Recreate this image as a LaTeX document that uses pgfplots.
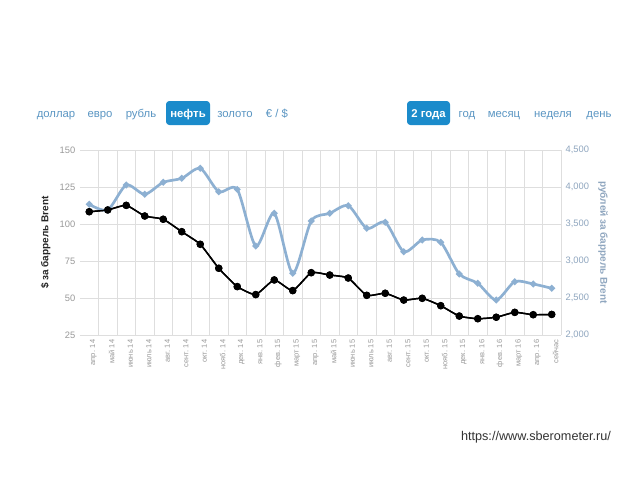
\documentclass[border=0pt]{standalone}
\usepackage{pgfplots}
\pgfplotsset{compat=1.18}
\usepackage{fontspec}
\setmainfont{Liberation Sans}
\definecolor{btn}{HTML}{1B8BCB}
\definecolor{lnk}{HTML}{5B96C3}
\definecolor{rub}{HTML}{8DB0D2}
\definecolor{axlbl}{HTML}{8FA6BF}
\definecolor{gridc}{HTML}{DEDEDE}
\definecolor{tickc}{HTML}{999999}

\pgfplotsset{
  base/.style={
    at={(60pt,108.75pt)}, anchor=south west, scale only axis,
    width=360.75pt, height=138.75pt,
    xmin=-0.5, xmax=25.5,
    axis line style={draw=none},
    major tick length=0, minor tick length=0,
    /pgf/number format/assume math mode=true,
  }
}

\begin{document}
\begin{tikzpicture}[x=0.75pt,y=0.75pt]
\fill[white] (0,0) rectangle (640,480);
% menu
\fill[btn, rounded corners=2.5pt] (166,379) rectangle (210,355);
\fill[btn, rounded corners=2.5pt] (407,379) rectangle (450,355);
\begin{scope}[every node/.style={font=\fontsize{8.5}{10}\selectfont, text=lnk, anchor=base, inner sep=0pt}]
\node at (56,363) {доллар};
\node at (100,363) {евро};
\node at (141,363) {рубль};
\node[text=white, font=\fontsize{8.5}{10}\selectfont\bfseries] at (188,363) {нефть};
\node at (235,363) {золото};
\node at (277,363) {€ / \$};
\node[text=white, font=\fontsize{8.5}{10}\selectfont\bfseries] at (428.5,363) {2 года};
\node at (467,363) {год};
\node at (504,363) {месяц};
\node at (553,363) {неделя};
\node at (599,363) {день};
\end{scope}
\node[text=black!80, font=\fontsize{9.5}{11}\selectfont] at (536,43) {https://www.sberometer.ru/};

% left axis: grid, labels
\begin{axis}[base,
  ymin=25, ymax=150, ytick={25,50,...,150},
  xtick={0,...,25},
  xticklabels={апр. 14,май 14,июнь 14,июль 14,авг. 14,сент. 14,окт. 14,нояб. 14,дек. 14,янв. 15,фев. 15,март 15,апр. 15,май 15,июнь 15,июль 15,авг. 15,сент. 15,окт. 15,нояб. 15,дек. 15,янв. 16,фев. 16,март 16,апр. 16,сейчас},
  minor xtick={0.5,1.5,...,25.5},
  xminorgrids, ymajorgrids,
  grid style={gridc, line width=0.6pt},
  minor grid style={gridc, line width=0.6pt},
  xticklabel style={rotate=90, anchor=east, text=tickc, font=\fontsize{5.6}{6}\selectfont, yshift=-3pt},
  yticklabel style={text=tickc, font=\fontsize{7}{8}\selectfont},
  ylabel={\$ за баррель Brent},
  ylabel style={font=\fontsize{7.5}{9}\selectfont\bfseries, text=black!85},
]
\addplot[black, line width=1.1pt, smooth, tension=0.3, mark=*, mark size=2.2pt] coordinates {
(0,108.3) (1,109.5) (2,112.6) (3,105.4) (4,103.2) (5,94.8) (6,86.3) (7,70.1) (8,57.7)
(9,52.3) (10,62.2) (11,55.0) (12,67.1) (13,65.5) (14,63.5) (15,51.8) (16,53.2) (17,48.6)
(18,49.8) (19,44.8) (20,37.8) (21,36.0) (22,37.0) (23,40.3) (24,38.7) (25,38.9)
};
\end{axis}

% right axis: roubles
\begin{axis}[base,
  axis x line=none, axis y line*=right,
  ymin=2000, ymax=4500, ytick={2000,2500,...,4500},
  /pgf/number format/.cd, 1000 sep={,}, /pgfplots/.cd,
  yticklabel style={text=axlbl, font=\fontsize{7}{8}\selectfont},
  ylabel={рублей за баррель Brent},
  ylabel style={rotate=180, font=\fontsize{7.5}{9}\selectfont\bfseries, text=axlbl},
]
\addplot[rub, line width=2pt, smooth, tension=0.45, mark=*, mark size=1.3pt] coordinates {
(0,3766) (1,3690) (2,4027) (3,3901) (4,4063) (5,4117) (6,4252) (7,3937) (8,3968)
(9,3203) (10,3644) (11,2833) (12,3541) (13,3644) (14,3748) (15,3442) (16,3523) (17,3126)
(18,3284) (19,3253) (20,2825) (21,2699) (22,2473) (23,2721) (24,2689) (25,2631)
};
\end{axis}

% black series again on top
\begin{axis}[base, hide axis, ymin=25, ymax=150]
\addplot[black, line width=1.1pt, smooth, tension=0.3, mark=*, mark size=2.2pt] coordinates {
(0,108.3) (1,109.5) (2,112.6) (3,105.4) (4,103.2) (5,94.8) (6,86.3) (7,70.1) (8,57.7)
(9,52.3) (10,62.2) (11,55.0) (12,67.1) (13,65.5) (14,63.5) (15,51.8) (16,53.2) (17,48.6)
(18,49.8) (19,44.8) (20,37.8) (21,36.0) (22,37.0) (23,40.3) (24,38.7) (25,38.9)
};
\end{axis}
\end{tikzpicture}
\end{document}
